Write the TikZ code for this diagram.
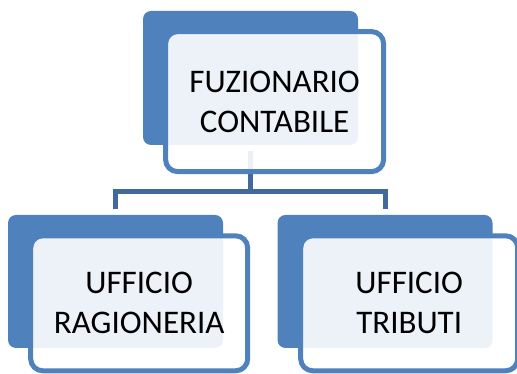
\documentclass[tikz,border=0pt]{standalone}
\usepackage{fontspec}
\setmainfont{Carlito}
\usetikzlibrary{positioning,calc}

\definecolor{blockblue}{HTML}{4F81BD}
\definecolor{connblue}{HTML}{41699B}

\tikzset{
  backbox/.style={fill=blockblue, rounded corners=8pt, inner sep=0pt, outer sep=0pt,
    minimum width=215pt, minimum height=134pt},
  frontbox/.style={draw=blockblue, line width=5pt, fill=white, fill opacity=0.9,
    text opacity=1, rounded corners=12pt, inner sep=0pt, outer sep=0pt,
    minimum width=217pt, minimum height=135pt, align=center,
    font=\fontsize{33}{40}\selectfont},
  conn/.style={draw=connblue, line width=5pt}
}

\begin{document}
\begin{tikzpicture}[x=1pt,y=1pt]
      \useasboundingbox (0,0) rectangle (517,374);
      \clip (0,0) rectangle (517,374);
      % back blocks at absolute coordinates
      \node[backbox] (fuzB) at (250.5,296) {};
      \node[backbox, minimum height=133pt] (ragB) at (115.5,92.5) {};
      \node[backbox, minimum height=133pt] (tribB) at (385,92.5) {};
      % connectors
      \draw[conn] ([yshift=-6pt]fuzB.south) -- ++(0,-40.5) -| ([yshift=6pt]ragB.north);
      \draw[conn] ([yshift=-6pt]fuzB.south) -- ++(0,-40.5) -| ([yshift=6pt]tribB.north);
      % front blocks with the texts
      \node[frontbox, minimum width=218pt, minimum height=140pt] (fuz) at (274.6,272.4) {FUZIONARIO\\CONTABILE};
      \node[frontbox] (rag) at (139.2,70.7) {UFFICIO\\RAGIONERIA};
      \node[frontbox] (trib) at (409.2,70.7) {UFFICIO\\TRIBUTI};
    \end{tikzpicture}
\end{document}
